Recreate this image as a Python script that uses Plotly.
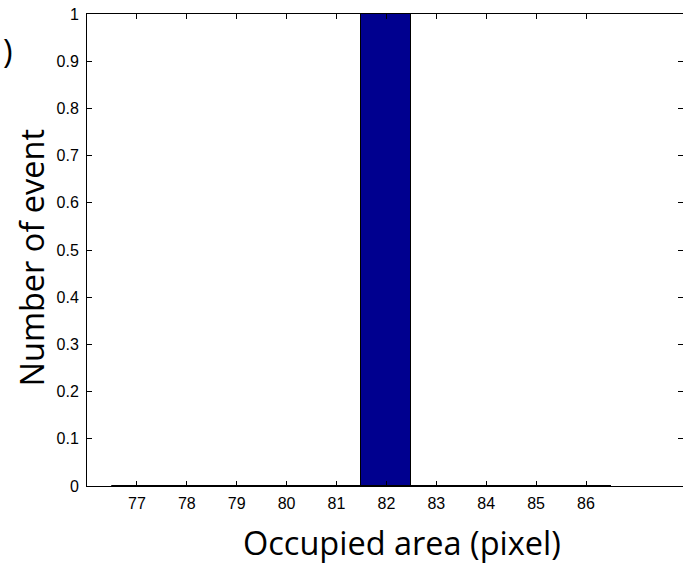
import plotly.graph_objects as go

# Histogram of occupied area: one event at 82 pixels
area_bins = [77, 78, 79, 80, 81, 82, 83, 84, 85, 86]
event_counts = [0, 0, 0, 0, 0, 1, 0, 0, 0, 0]
y_ticks = [0, 0.1, 0.2, 0.3, 0.4, 0.5, 0.6, 0.7, 0.8, 0.9, 1]
y_tick_text = ["0", "0.1", "0.2", "0.3", "0.4", "0.5", "0.6", "0.7", "0.8", "0.9", "1"]

W, H = 683, 566
L, R, T, B = 87, 0, 14, 80
px_per_unit = 49.9
x_lo = 76
x_hi = x_lo + (W - L - R) / px_per_unit

bar_color = "rgb(0,0,143)"
tick_font = dict(family="Liberation Sans, Arial, sans-serif", size=16, color="black")
title_font = dict(family="Open Sans, sans-serif", size=32.5, color="black")

fig = go.Figure()
fig.add_trace(go.Bar(
    x=area_bins, y=event_counts, width=1.0,
    marker=dict(color=bar_color, line=dict(color="black", width=1)),
    showlegend=False, hoverinfo="skip",
))
# edge of the empty bins along the baseline
fig.add_trace(go.Scatter(
    x=[min(area_bins) - 0.5, max(area_bins) + 0.5], y=[0, 0],
    mode="lines", line=dict(color="black", width=2),
    showlegend=False, hoverinfo="skip", yaxis="y2",
))

fig.update_layout(
    width=W, height=H,
    margin=dict(l=L, r=R, t=T, b=B, pad=0),
    paper_bgcolor="white", plot_bgcolor="white",
    bargap=0,
    xaxis=dict(
        range=[x_lo, x_hi], tickvals=area_bins, ticktext=[str(v) for v in area_bins],
        ticks="inside", ticklen=5, tickcolor="black", tickwidth=1,
        showline=True, linecolor="black", linewidth=1, mirror="ticks",
        showgrid=False, zeroline=False, tickfont=tick_font,
        ticklabelstandoff=3,
    ),
    yaxis=dict(
        range=[0, 1], tickvals=y_ticks, ticktext=y_tick_text,
        ticks="inside", ticklen=5, tickcolor="black", tickwidth=1,
        showline=True, linecolor="black", linewidth=1, mirror=False,
        showgrid=False, zeroline=False, tickfont=tick_font,
        ticklabelstandoff=4,
    ),
    yaxis2=dict(
        range=[0, 1], tickvals=y_ticks, overlaying="y", side="right",
        ticks="inside", ticklen=5, tickcolor="black", tickwidth=1,
        showline=False, showticklabels=False, showgrid=False, zeroline=False,
    ),
    annotations=[
        dict(text="Occupied area (pixel)", xref="paper", yref="paper",
             x=(401.7 - L) / (W - L - R), y=(H - B - 542) / (H - T - B),
             xanchor="center", yanchor="middle", showarrow=False, font=title_font),
        dict(text="Number of event", xref="paper", yref="paper", textangle=-90,
             x=(30.5 - L) / (W - L - R), y=(H - B - 258) / (H - T - B),
             xanchor="center", yanchor="middle", showarrow=False, font=title_font),
        dict(text=")", xref="paper", yref="paper",
             x=(8 - L) / (W - L - R), y=(H - B - 50) / (H - T - B),
             xanchor="center", yanchor="middle", showarrow=False, font=title_font),
    ],
)

fig.write_html("out.html")
